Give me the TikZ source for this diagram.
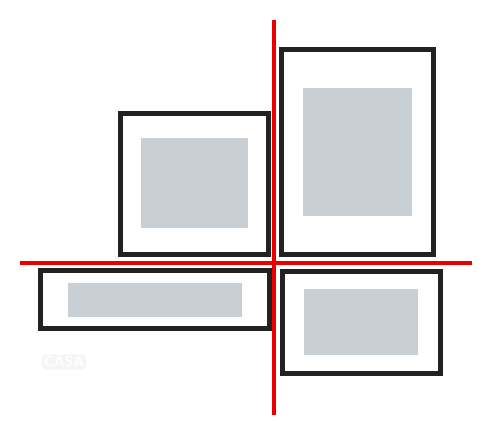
\documentclass[tikz,border=0pt]{standalone}
\usepackage{xcolor}
\usepackage{tikz}

\definecolor{framegray}{HTML}{222222}
\definecolor{photogray}{HTML}{C8D0D5}
\definecolor{guidered}{HTML}{E60000}

\begin{document}
\begin{tikzpicture}[
  x=1pt, y=-1pt,
  frame/.style={draw=framegray, line width=5pt, fill=white},
  photo/.style={fill=photogray},
  guide/.style={draw=guidered, line width=4pt}
]
  \useasboundingbox (0,0) rectangle (483,422);

  % Frames
  \draw[frame] (120,114) rectangle (268,255);
  \draw[frame] (281,50) rectangle (433,255);
  \draw[frame] (40,271) rectangle (269,329);
  \draw[frame] (282,272) rectangle (440,374);

  % Pictures
  \fill[photo] (141,138) rectangle (248,228);
  \fill[photo] (303,88) rectangle (412,216);
  \fill[photo] (68,283) rectangle (242,317);
  \fill[photo] (304,289) rectangle (418,355);

  % Guides
  \draw[guide] (274,20) -- (274,415);
  \draw[guide] (20,263) -- (472,263);

  % Watermark
  \node[fill=black!4, rounded corners=3pt, text=white, font=\sffamily\bfseries\Large,
        inner sep=2pt] (mark) at (64,362) {CASA};
\end{tikzpicture}
\end{document}
